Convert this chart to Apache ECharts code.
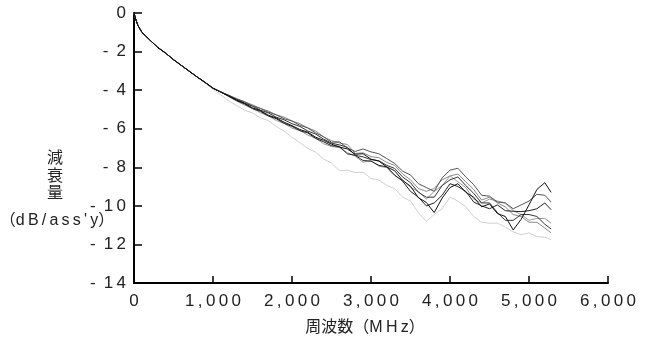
<!DOCTYPE html>
<html>
<head>
<meta charset="utf-8">
<script src="https://cdn.jsdelivr.net/npm/echarts@6/dist/echarts.min.js"></script>
<style>
  html, body { margin: 0; padding: 0; background: #fff; }
  #chart { width: 647px; height: 347px; }
</style>
</head>
<body>
<div id="chart"></div>
<script>
// frequency grid (MHz)
const freq = [0, 20, 50, 100, 200, 300, 400, 500, 600, 700, 800, 900, 1000, 1100,
  1200, 1300, 1400, 1500, 1600, 1700, 1800, 1900, 2000, 2100, 2200, 2300, 2400,
  2500, 2600, 2700, 2800, 2900, 3000, 3100, 3200, 3300, 3400, 3500, 3600, 3700,
  3800, 3900, 4000, 4100, 4200, 4300, 4400, 4500, 4600, 4700, 4800, 4900, 5000,
  5100, 5200, 5280];

// 0 - 1100 MHz, all samples overlap
const head = [0, -0.3, -0.65, -1.0, -1.4, -1.78, -2.08, -2.42, -2.72, -3.02, -3.32, -3.6, -3.9, -4.1];

// 1200 - 2400 MHz
const mid1 = [-4.3, -4.52, -4.68, -4.92, -5.06, -5.3, -5.44, -5.66, -5.84, -6.04, -6.18, -6.44, -6.6];
const mid2 = [-4.26, -4.46, -4.6, -4.82, -4.94, -5.14, -5.28, -5.48, -5.6, -5.82, -5.96, -6.22, -6.42];
const mid3 = [-4.32, -4.55, -4.72, -4.96, -5.1, -5.34, -5.48, -5.72, -5.88, -6.1, -6.22, -6.5, -6.68];
const mid4 = [-4.3, -4.48, -4.67, -4.83, -5.04, -5.18, -5.4, -5.54, -5.74, -5.88, -6.12, -6.28, -6.54];
const mid5 = [-4.27, -4.44, -4.61, -4.76, -4.96, -5.08, -5.28, -5.4, -5.6, -5.74, -5.96, -6.12, -6.42];
const mid6 = [-4.34, -4.56, -4.78, -4.95, -5.17, -5.33, -5.57, -5.73, -5.97, -6.1, -6.33, -6.5, -6.78];

// 2500 - 5280 MHz
const tail1 = [-6.8, -6.95, -7.05, -7.32, -7.3, -7.58, -7.68, -7.98, -8.18, -8.68, -8.98, -9.58, -9.82, -10.35,
  -9.6, -9.05, -8.85, -9.3, -9.55, -10.05, -9.9, -10.4, -10.55, -11.25, -10.7, -9.95, -9.15, -8.8, -9.3];
const tail2 = [-6.7, -6.68, -7.0, -7.18, -7.05, -7.2, -7.3, -7.55, -7.8, -8.2, -8.4, -8.85, -9.05, -9.25,
  -8.55, -8.15, -8.05, -8.5, -8.9, -9.45, -9.5, -9.8, -9.85, -10.15, -9.95, -9.75, -9.4, -9.45, -9.8];
const tail3 = [-6.88, -6.92, -7.3, -7.38, -7.65, -7.68, -7.9, -7.98, -8.4, -8.72, -9.25, -9.55, -10.0, -9.85,
  -9.45, -8.85, -9.0, -9.25, -9.8, -10.0, -10.15, -9.95, -10.25, -10.28, -10.3, -10.25, -10.15, -9.85, -10.2];
const tail4 = [-6.75, -6.84, -6.96, -7.38, -7.46, -7.6, -7.66, -7.9, -8.06, -8.5, -8.8, -9.3, -9.55, -9.55,
  -8.95, -8.65, -8.5, -8.95, -9.35, -9.85, -9.85, -10.35, -10.75, -10.75, -10.45, -10.45, -10.55, -10.95, -11.2];
const tail5 = [-6.62, -6.74, -6.82, -7.28, -7.25, -7.45, -7.5, -7.75, -7.9, -8.35, -8.65, -9.1, -9.25, -9.1,
  -8.65, -8.45, -8.35, -8.75, -9.15, -9.7, -9.55, -9.85, -10.05, -10.45, -10.55, -10.85, -10.85, -11.15, -11.4];
const tail6 = [-6.92, -6.98, -7.24, -7.42, -7.74, -7.66, -7.94, -8.02, -8.45, -8.66, -9.05, -9.25, -9.65, -9.25,
  -8.95, -8.45, -8.75, -9.05, -9.65, -9.85, -9.65, -9.75, -9.85, -10.25, -10.45, -10.75, -10.65, -10.65, -10.9];

// lowest (light grey) sample, its own path from 900 MHz on
const low = [0, -0.3, -0.65, -1.0, -1.4, -1.78, -2.08, -2.42, -2.72, -3.02, -3.32, -3.63, -3.95, -4.25,
  -4.55, -4.8, -5.04, -5.18, -5.44, -5.58, -5.88, -6.12, -6.45, -6.72, -7.02, -7.22, -7.58,
  -7.78, -8.18, -8.15, -8.28, -8.25, -8.58, -8.66, -8.94, -9.1, -9.55, -9.75, -10.35, -10.8, -10.45,
  -10.15, -9.55, -9.75, -10.05, -10.55, -10.85, -10.9, -10.9, -11.1, -11.35, -11.5, -11.4,
  -11.6, -11.62, -11.75];

const xTicks = ["0", "1,000", "2,000", "3,000", "4,000", "5,000", "6,000"];

const samples = [
  { data: head.concat(mid5, tail5), color: "#8a8a8a" },
  { data: head.concat(mid6, tail6), color: "#9a9a9a" },
  { data: head.concat(mid2, tail2), color: "#555" },
  { data: head.concat(mid4, tail4), color: "#333" },
  { data: head.concat(mid3, tail3), color: "#222" },
  { data: head.concat(mid1, tail1), color: "#111" },
];

const spaced = (s) => s.split("").join("\u2009");
const labelFont = "Liberation Sans, Arial, sans-serif";
const cjkFont = "Liberation Sans, 'Noto Sans CJK JP', sans-serif";

const chart = echarts.init(document.getElementById("chart"), null, { renderer: "canvas" });

const series = [
  {
    type: "line",
    data: freq.map((f, i) => [f, low[i]]),
    showSymbol: false,
    lineStyle: { width: 1, color: "#d0d0d0" },
    z: 1,
  },
].concat(samples.map((s) => ({
  type: "line",
  data: freq.map((f, i) => [f, s.data[i]]),
  showSymbol: false,
  lineStyle: { width: 1, color: s.color },
  z: 2,
})));

chart.setOption({
  animation: false,
  grid: { left: 134, right: 39, top: 13, bottom: 64 },
  xAxis: {
    type: "value",
    min: 0,
    max: 6000,
    interval: 1000,
    axisLine: { onZero: false, lineStyle: { color: "#000", width: 2 } },
    axisTick: { inside: true, length: 7, lineStyle: { color: "#000", width: 1.5 } },
    splitLine: { show: false },
    axisLabel: {
      margin: 10,
      color: "#222",
      fontSize: 17,
      fontFamily: labelFont,
      formatter: (v) => spaced(xTicks[Math.round(v / 1000)]),
    },
  },
  yAxis: {
    type: "value",
    min: -14,
    max: 0,
    interval: 2,
    axisLine: { show: true, onZero: false, lineStyle: { color: "#000", width: 2 } },
    axisTick: { inside: true, length: 8, lineStyle: { color: "#000", width: 1.5 } },
    splitLine: { show: false },
    axisLabel: {
      margin: 8,
      color: "#222",
      fontSize: 17,
      fontFamily: labelFont,
      formatter: (v) => (v === 0 ? "0" : "- \u2009" + spaced(String(-v))),
    },
  },
  graphic: [
    { type: "text", x: 55, y: 157, style: { text: "減", font: "16px 'Noto Sans CJK JP'", fill: "#222", align: "center", verticalAlign: "middle" } },
    { type: "text", x: 55, y: 175, style: { text: "衰", font: "16px 'Noto Sans CJK JP'", fill: "#222", align: "center", verticalAlign: "middle" } },
    { type: "text", x: 55, y: 192, style: { text: "量", font: "16px 'Noto Sans CJK JP'", fill: "#222", align: "center", verticalAlign: "middle" } },
    { type: "text", x: 57, y: 221, style: { text: "（" + spaced("dB/ass'y") + "）", font: "16px " + cjkFont, fill: "#222", align: "center", verticalAlign: "middle" } },
    { type: "text", x: 365, y: 328, style: { text: "周波数（" + spaced("MHz") + "）", font: "16px " + cjkFont, fill: "#222", align: "center", verticalAlign: "middle" } },
  ],
  series: series,
});
</script>
</body>
</html>
